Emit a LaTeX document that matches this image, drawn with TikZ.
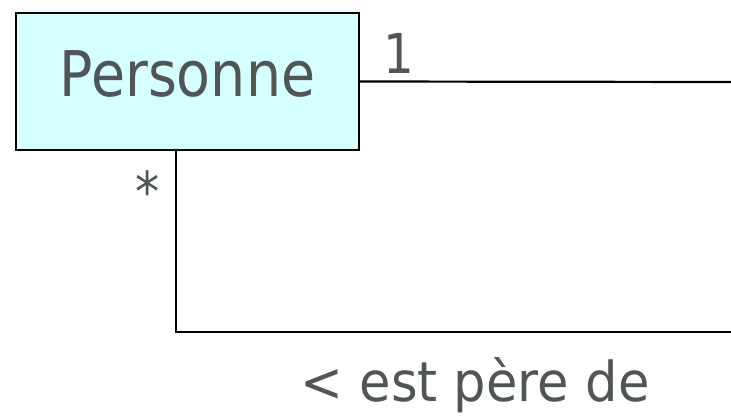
\documentclass[tikz,border=0pt]{standalone}
\usepackage{fontspec}
\setmainfont{DejaVu Sans}[FakeStretch=0.88]
\newfontfamily\widefont{DejaVu Sans}[FakeStretch=0.93]
\definecolor{boxfill}{HTML}{D6FFFF}
\definecolor{txt}{HTML}{505555}
\tikzset{
  classbox/.style={draw=black, line width=2.2bp, fill=boxfill, minimum width=343bp, minimum height=137bp, inner sep=0pt, text=txt, text depth=16bp, font=\fontsize{63bp}{70bp}\selectfont},
  lbl/.style={text=txt, inner sep=0pt},
  assoc/.style={line width=2.2bp, draw=black}
}
\begin{document}
\begin{tikzpicture}[x=1bp,y=-1bp]
\useasboundingbox (0,0) rectangle (731,415);
\clip (0,0) rectangle (731,415);
\node[classbox] (p) at (187.5,81.5) {Personne};
\coordinate (r1) at (731,82);
\coordinate (v0) at (176,150);
\coordinate (corner) at (176,332);
\coordinate (r2) at (731,332);
\draw[assoc] (p.east) -- (r1);
\draw[assoc] (v0) -- (corner) -- (r2);
\node[lbl, anchor=base, font=\fontsize{55bp}{60bp}\selectfont] (m1) at (399,73) {1};
\node[lbl, font=\fontsize{55bp}{60bp}\selectfont] (m2) at (148,191) {*};
\node[lbl, anchor=base, font=\widefont\fontsize{55bp}{60bp}\selectfont] (name) at (475,401) {< est père de};
\end{tikzpicture}
\end{document}
